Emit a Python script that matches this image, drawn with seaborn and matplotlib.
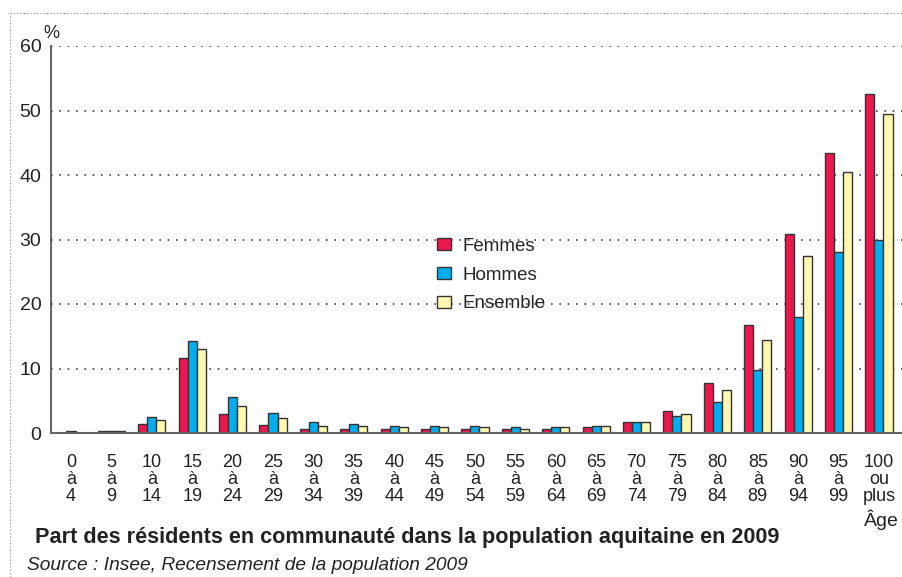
import numpy as np
import pandas as pd
import seaborn as sns
import matplotlib.pyplot as plt
from matplotlib.lines import Line2D

# Data
ages = ['0\nà\n4', '5\nà\n9', '10\nà\n14', '15\nà\n19', '20\nà\n24', '25\nà\n29', '30\nà\n34',
        '35\nà\n39', '40\nà\n44', '45\nà\n49', '50\nà\n54', '55\nà\n59', '60\nà\n64', '65\nà\n69',
        '70\nà\n74', '75\nà\n79', '80\nà\n84', '85\nà\n89', '90\nà\n94', '95\nà\n99', '100\nou\nplus']
femmes = [0.0, 0.3, 1.4, 11.7, 3.0, 1.2, 0.6, 0.6, 0.6, 0.6, 0.6, 0.6, 0.6, 0.9, 1.7, 3.4, 7.8, 16.7, 30.9, 43.4, 52.5]
hommes = [0.3, 0.3, 2.5, 14.2, 5.6, 3.1, 1.7, 1.4, 1.1, 1.1, 1.1, 0.9, 0.9, 1.1, 1.7, 2.7, 4.8, 9.7, 18.0, 28.0, 30.0]
ensemble = [0.0, 0.3, 2.0, 13.1, 4.2, 2.3, 1.1, 1.1, 0.9, 0.9, 0.9, 0.6, 0.9, 1.1, 1.7, 3.0, 6.7, 14.4, 27.5, 40.5, 49.5]
series = ['Femmes', 'Hommes', 'Ensemble']
colors = ['#EC174C', '#00AEEF', '#FFF8B0']

df = pd.DataFrame({'age': ages * 3,
                   'serie': np.repeat(series, len(ages)),
                   'valeur': femmes + hommes + ensemble})

sns.set_style('white')
plt.rcParams['font.family'] = ['Liberation Sans', 'DejaVu Sans']
narrow = ['Liberation Sans Narrow', 'Liberation Sans', 'DejaVu Sans']

fig = plt.figure(figsize=(9.02, 5.77), dpi=100)
ax = fig.add_axes([51 / 902, 1 - 433 / 577, 1 - 51 / 902, (433 - 46) / 577])

sns.barplot(data=df, x='age', y='valeur', hue='serie', palette=colors, width=0.67,
            edgecolor='#333333', linewidth=1, saturation=1, ax=ax)

ax.set_ylim(0, 60)
ax.set_xlim(-0.495, len(ages) - 0.43)
ax.set_yticks([0, 10, 20, 30, 40, 50, 60])
ax.yaxis.grid(True, linestyle=(0, (1, 4)), color='#444444', linewidth=1.2)
ax.set_axisbelow(True)
for s in ['top', 'right']:
    ax.spines[s].set_visible(False)
ax.spines['left'].set_color('#666666')
ax.spines['left'].set_linewidth(1.5)
ax.spines['bottom'].set_color('#666666')
ax.spines['bottom'].set_linewidth(1.5)
ax.set_xlabel('')
ax.set_ylabel('')
ax.tick_params(axis='y', length=0, pad=7, labelsize=14, labelcolor='#222222')
ax.tick_params(axis='x', length=0, pad=15)
ax.set_xticks(range(len(ages)))
ax.set_xticklabels(ages, fontsize=13, linespacing=1.0, color='#222222', family=narrow)

ax.legend(loc='upper left', bbox_to_anchor=(437 / 902, 1 - 238 / 577), bbox_transform=fig.transFigure,
          frameon=False, fontsize=13.5, handlelength=0.75, handleheight=0.6, handletextpad=0.6,
          labelspacing=0.62, borderpad=0, borderaxespad=0)

fig.text(43 / 902, 1 - 33 / 577, '%', fontsize=13, color='#222222', va='center')
fig.text(881 / 902, 1 - 520 / 577, 'Âge', fontsize=14, color='#222222', ha='center', va='center',
         family=narrow)
fig.text(35 / 902, 1 - 537 / 577, 'Part des résidents en communauté dans la population aquitaine en 2009',
         fontsize=15.6, fontweight='bold', color='#222222', va='center')
fig.text(27 / 902, 1 - 565 / 577, 'Source : Insee, Recensement de la population 2009',
         fontsize=13.8, style='italic', color='#222222', va='center')

# dotted frame
fig.add_artist(Line2D([10 / 902, 10 / 902], [0, 1 - 13 / 577], transform=fig.transFigure,
                      linestyle=(0, (1, 2)), color='#888888', linewidth=0.8))
fig.add_artist(Line2D([10 / 902, 1], [1 - 13 / 577, 1 - 13 / 577], transform=fig.transFigure,
                      linestyle=(0, (1, 2)), color='#888888', linewidth=0.8))

fig.savefig('out.png', dpi=100)
